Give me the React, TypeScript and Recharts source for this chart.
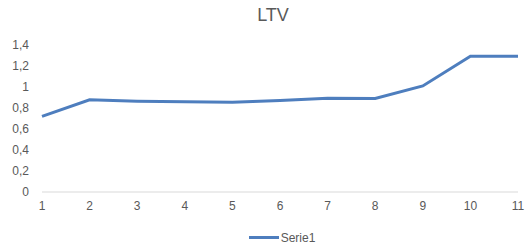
import { LineChart, Line, XAxis, YAxis, Legend } from "recharts";

// LTV by period
const periods = [1, 2, 3, 4, 5, 6, 7, 8, 9, 10, 11];
const ltv = [0.72, 0.878, 0.864, 0.86, 0.855, 0.872, 0.893, 0.89, 1.01, 1.293, 1.293];
const yTicks = [0, 0.2, 0.4, 0.6, 0.8, 1, 1.2, 1.4];

const data = periods.map((p, i) => ({ period: p, Serie1: ltv[i] }));

const LINE_COLOR = "#4E7EBE";
const TEXT_COLOR = "#595959";
const FONT = "'Liberation Sans', Arial, sans-serif";

const fmt = (v: number) => String(v).replace(".", ",");

function LegendBox() {
  return (
    <div
      style={{
        height: 25,
        boxSizing: "border-box",
        paddingTop: 10,
        display: "flex",
        justifyContent: "center",
        alignItems: "center",
        paddingLeft: 46,
      }}
    >
      <span style={{ width: 30, height: 3, background: LINE_COLOR, display: "inline-block", marginRight: 2 }} />
      <span style={{ fontSize: 12, color: TEXT_COLOR, fontFamily: FONT }}>Serie1</span>
    </div>
  );
}

export default function App() {
  return (
    <div style={{ position: "absolute", left: 0, top: 0, width: 526, height: 245, background: "#fff" }}>
      <div
        style={{
          position: "absolute",
          top: 5,
          left: 10,
          width: 526,
          textAlign: "center",
          fontSize: 18,
          color: TEXT_COLOR,
          fontFamily: FONT,
        }}
      >
        LTV
      </div>
      <LineChart width={526} height={245} data={data} margin={{ top: 45, right: 8, bottom: 0, left: 0 }}>
        <XAxis
          dataKey="period"
          tickLine={false}
          tickSize={6}
          tickMargin={3}
          height={28}
          stroke="#d9d9d9"
          tick={{ fill: TEXT_COLOR, fontSize: 12, fontFamily: FONT }}
          interval={0}
        />
        <YAxis
          domain={[0, 1.4]}
          ticks={yTicks}
          width={42}
          axisLine={false}
          tickLine={false}
          tickSize={0}
          tickMargin={13}
          tickFormatter={fmt}
          tick={{ fill: TEXT_COLOR, fontSize: 12, fontFamily: FONT }}
        />
        <Legend verticalAlign="bottom" content={() => <LegendBox />} />
        <Line
          type="linear"
          dataKey="Serie1"
          stroke={LINE_COLOR}
          strokeWidth={3}
          dot={false}
          activeDot={false}
          isAnimationActive={false}
        />
      </LineChart>
    </div>
  );
}
